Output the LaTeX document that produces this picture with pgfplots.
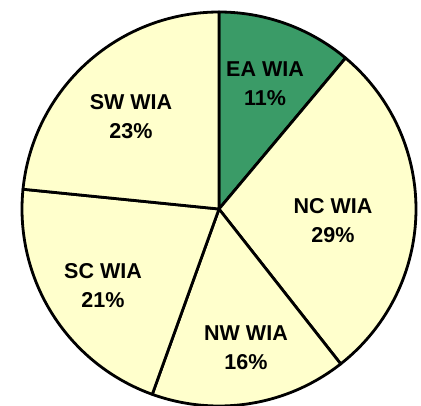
\documentclass[border=0pt]{standalone}
\usepackage{pgfplots}
\pgfplotsset{compat=1.18}
\usepackage{fontspec}
\setmainfont{Liberation Sans}
\definecolor{pieyellow}{HTML}{FFFFCC}
\definecolor{piegreen}{HTML}{3A9B67}
\newcommand{\R}{197}
\def\cur{90}
\newcommand{\pieslice}[2]{% #1 = share in percent, #2 = fill colour
  \pgfmathsetmacro{\sa}{\cur}%
  \pgfmathsetmacro{\sb}{\cur-3.6*#1}%
  \edef\doslice{\noexpand\addplot[fill=#2, draw=black, line width=2.8pt, line join=round,
    domain=\sb:\sa, samples=80, variable=\noexpand\t]
    ({\R*cos(\noexpand\t)},{\R*sin(\noexpand\t)}) -- (axis cs:0,0) -- cycle;}%
  \doslice
  \xdef\cur{\sb}%
}
\begin{document}
\begin{tikzpicture}
\begin{axis}[
  width=421pt, height=405pt, scale only axis,
  xmin=-219, xmax=202, ymin=-196, ymax=209,
  hide axis, clip=true,
]
% shares (EA, NC, NW, SC, SW), clockwise from the top
\pieslice{11.1}{piegreen}
\pieslice{28.3}{pieyellow}
\pieslice{16.1}{pieyellow}
\pieslice{21.1}{pieyellow}
\pieslice{23.4}{pieyellow}
\begin{scope}[every node/.style={font=\fontsize{21.5}{29}\selectfont\bfseries, align=center, text=black}]
\node at (axis cs:46,125.5) {EA WIA\\11\%};
\node at (axis cs:114,-11.5) {NC WIA\\29\%};
\node at (axis cs:27,-138.5) {NW WIA\\16\%};
\node at (axis cs:-116,-76.5) {SC WIA\\21\%};
\node at (axis cs:-88,92) {SW WIA\\23\%};
\end{scope}
\end{axis}
\pgfresetboundingbox
\path[use as bounding box] (current axis.south west) rectangle (current axis.north east);
\end{tikzpicture}
\end{document}
